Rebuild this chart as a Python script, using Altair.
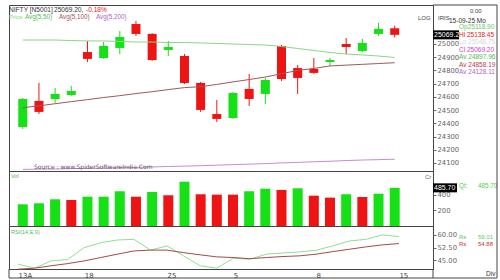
import altair as alt
import pandas as pd

FONT = "DejaVu Sans"
FONT2 = "Liberation Sans"
GREEN = "#16e016"
RED = "#ee1414"
MA50_C = "#86d886"
MA100_C = "#a45656"
MA200_C = "#c98ad2"
RSI_C = "#8fe08f"
SIG_C = "#a44a4a"
FRAME = "#444444"

# ---------------- data ----------------
day_idx = list(range(24))
opens = [24372, 24569, 24584, 24614, 24939, 24894, 24970, 25151, 25076, 24955, 24909, 24705,
         24470, 24440, 24660, 24622, 24985, 24818, 24811, 24864, 25000, 24947, 25076, 25118.90]
highs = [24591, 24705, 24667, 24682, 25023, 25015, 25098, 25174, 25083, 25023, 24924, 24713,
         24576, 24637, 24773, 24743, 24992, 24841, 24894, 24894, 25045, 25038, 25159, 25138.45]
lows = [24357, 24470, 24554, 24607, 24864, 24887, 24924, 25061, 24871, 24909, 24697, 24486,
        24410, 24433, 24531, 24546, 24720, 24622, 24773, 24834, 24924, 24939, 25061, 25048.75]
closes = [24584, 24486, 24622, 24644, 24887, 24985, 25053, 25076, 24879, 24977, 24705, 24501,
          24433, 24629, 24584, 24728, 24735, 24743, 24781, 24879, 24977, 25008, 25114, 25069.20]
ma50 = [25030, 25030, 25030, 25026, 25023, 25023, 25019, 25015, 25015, 25011, 25011, 25008,
        25004, 25000, 24996, 24992, 24981, 24966, 24951, 24936, 24924, 24917, 24909, 24897.96]
ma100 = [24518, 24532, 24548, 24564, 24579, 24595, 24609, 24625, 24639, 24655, 24670, 24677,
         24694, 24713, 24731, 24750, 24775, 24800, 24815, 24834, 24840, 24846, 24852, 24858.19]
ma200 = [24051, 24053, 24054, 24057, 24059, 24061, 24063, 24066, 24070, 24073, 24076, 24079,
         24083, 24087, 24091, 24095, 24100, 24104, 24109, 24113, 24118, 24122, 24125, 24128.11]
vols = [276, 289, 340, 331, 373, 373, 442, 373, 433, 391, 564, 404,
        399, 399, 442, 475, 459, 480, 386, 361, 404, 369, 411, 485.70]
vol_dir = ["up", "up", "up", "down", "up", "up", "up", "down", "up", "down", "up", "down",
           "down", "down", "up", "up", "down", "up", "down", "down", "up", "down", "up", "up"]
rsi = [42.7, 40.3, 44.6, 45.4, 52.5, 55.4, 57.0, 57.4, 51.0, 53.5, 47.6, 41.7,
       40.3, 46.2, 45.6, 48.6, 49.3, 49.9, 50.9, 53.5, 56.4, 57.4, 60.0, 59.01]
rsi_sig = [39.7, 40.3, 41.7, 43.0, 44.6, 46.6, 48.6, 50.5, 51.0, 51.0, 49.5, 48.2,
           47.0, 46.6, 45.9, 46.6, 47.2, 47.6, 48.6, 50.1, 51.5, 52.9, 54.1, 54.88]

x_tick_idx = [0, 4, 9, 13, 18, 23]
x_tick_lbl = ["13A", "18", "25", "5", "8", "15"]
price_ticks = [24100, 24200, 24300, 24400, 24500, 24600, 24700, 24800, 24900, 25000]
vol_ticks = [200, 400]
rsi_ticks = [45.0, 52.5, 60.0]

df = pd.DataFrame(dict(i=day_idx, open=opens, high=highs, low=lows, close=closes,
                       ma50=ma50, ma100=ma100, ma200=ma200, vol=vols, vdir=vol_dir,
                       rsi=rsi, sig=rsi_sig))
df["dir"] = ["up" if c >= o else "down" for o, c in zip(opens, closes)]
last = df.tail(1).copy()
last["ctext"] = [f"{closes[-1]:.1f}"]
last["vtext"] = [f"{vols[-1]:.2f}"]

chg = (closes[-1] - closes[-2]) / closes[-2] * 100

# ---------------- layout ----------------
W = 424
H_PRICE, H_VOL, H_RSI = 166, 55, 43

xscale = alt.Scale(domain=[-0.543, 25.06], nice=False, zero=False)
dir_color = alt.Scale(domain=["up", "down"], range=[GREEN, RED])

def raxis(values, fmt):
    return alt.Axis(orient="right", values=values, format=fmt, title=None, grid=False,
                    domain=False, tickSize=3, tickColor="#666", labelColor="#666",
                    labelFontSize=6.8, labelFont=FONT, labelPadding=1)

one = pd.DataFrame({"a": [0]})

def txt(text, x, y, color, size=6.5, weight="normal", align="left", font=FONT2):
    return alt.Chart(one).mark_text(text=text, align=align, baseline="middle", fontSize=size,
                                    font=font, color=color, fontWeight=weight).encode(
        x=alt.value(x), y=alt.value(y))

def hrule(x1, x2, y):
    return alt.Chart(one).mark_rule(color=FRAME, strokeWidth=1).encode(
        x=alt.value(x1), x2=alt.value(x2), y=alt.value(y))

def vrule(x, y1, y2):
    return alt.Chart(one).mark_rule(color=FRAME, strokeWidth=1).encode(
        x=alt.value(x), y=alt.value(y1), y2=alt.value(y2))

# ---- price panel ----
pscale = alt.Scale(domain=[24039, 25295], nice=False, zero=False)
PAX = raxis(price_ticks, "d")
XN = alt.X("i:Q", scale=xscale, axis=None)
base = alt.Chart(df).encode(x=XN)
wicks = base.mark_rule(strokeWidth=1).encode(
    y=alt.Y("low:Q", scale=pscale, axis=PAX), y2="high:Q",
    color=alt.Color("dir:N", scale=dir_color, legend=None))
bodies = base.mark_bar(width=9).encode(
    y=alt.Y("open:Q", scale=pscale, axis=PAX), y2="close:Q",
    color=alt.Color("dir:N", scale=dir_color, legend=None))
l50 = base.mark_line(strokeWidth=1, color=MA50_C).encode(y=alt.Y("ma50:Q", scale=pscale, axis=PAX))
l100 = base.mark_line(strokeWidth=1, color=MA100_C).encode(y=alt.Y("ma100:Q", scale=pscale, axis=PAX))
l200 = base.mark_line(strokeWidth=1, color=MA200_C).encode(y=alt.Y("ma200:Q", scale=pscale, axis=PAX))
cbox = alt.Chart(last).mark_rule(strokeWidth=9, color="black", strokeCap="butt").encode(
    y=alt.Y("close:Q", scale=pscale, axis=PAX), x=alt.value(424), x2=alt.value(450))
ctext = alt.Chart(last).mark_text(align="left", baseline="middle", color="white", fontSize=7,
                                  font=FONT2).encode(
    y=alt.Y("close:Q", scale=pscale, axis=PAX), x=alt.value(425), text="ctext:N")

price = alt.layer(
    wicks, bodies, l50, l100, l200,
    txt("Source : www.SpiderSoftwareIndia.Com", 25, 162, "#556", 6, font=FONT),
    cbox, ctext,
    txt("NIFTY [N5001]", 0, 5, "#333", 6.6),
    txt(f"{closes[-1]:.2f},", 45, 5, "#333", 6.6),
    txt(f"{chg:.2f}%", 77, 5, RED, 6.6),
    txt("Price", 0, 12, MA50_C, 6.0),
    txt("Avg(5,50)", 16, 12, "#55bb55", 6.3),
    txt("Avg(5,100)", 50, 12, MA100_C, 6.3),
    txt("Avg(5,200)", 87, 12, "#b066c0", 6.3),
    txt("LOG", 409, 13, "#444", 6),
    txt("IRIS", 429, 13, "#444", 6),
    txt("0.00", 461, 6, "#444", 6),
    txt("15-09-25 Mo", 440, 15.5, "#333", 6.5),
    txt(f"Op{opens[-1]:.2f}", 450, 22, "#66cc66", 6.5),
    txt(f"Hi  {highs[-1]:.2f}", 450, 29.5, RED, 6.5),
    txt(f"Lo  {lows[-1]:.2f}", 450, 37, "#d8d8d8", 6.5),
    txt(f"Cl  {closes[-1]:.2f}", 450, 44.5, "#cc44cc", 6.5),
    txt(f"Av  {ma50[-1]:.2f}", 450, 52, "#55bb55", 6.5),
    txt(f"Av  {ma100[-1]:.2f}", 450, 59.5, "#c04040", 6.5),
    txt(f"Av  {ma200[-1]:.2f}", 450, 67, "#b066c0", 6.5),
    hrule(424, 488, 0),
).properties(width=W, height=H_PRICE)

# ---- volume panel ----
vscale = alt.Scale(domain=[0, 700], nice=False)
VAX = raxis(vol_ticks, "d")
vbars = alt.Chart(df).mark_bar(width=10).encode(
    x=XN,
    y=alt.Y("vol:Q", scale=vscale, axis=VAX),
    color=alt.Color("vdir:N", scale=dir_color, legend=None))
vbox = alt.Chart(last).mark_rule(strokeWidth=9, color="black", strokeCap="butt").encode(
    y=alt.Y("vol:Q", scale=vscale, axis=VAX), x=alt.value(424), x2=alt.value(448))
vtext = alt.Chart(last).mark_text(align="left", baseline="middle", color="white", fontSize=7,
                                  font=FONT2).encode(
    y=alt.Y("vol:Q", scale=vscale, axis=VAX), x=alt.value(425), text="vtext:N")
volume = alt.layer(
    vbars, vbox, vtext,
    txt("Vol", 2, 5, "#55bb55", 5.5),
    txt("Cr", 416, 6, "#666", 6),
    txt("Qt:", 450, 14.5, "#55cc55", 6.3),
    txt(f"{vols[-1]:.2f}", 469, 14.5, "#55cc55", 6.3),
).properties(width=W, height=H_VOL)

# ---- RSI panel ----
rscale = alt.Scale(domain=[39.8, 65.3], nice=False, zero=False)
RAX = raxis(rsi_ticks, ".2f")
label_expr = " : ".join(f"datum.value == {i} ? '{l}'" for i, l in zip(x_tick_idx, x_tick_lbl)) + " : ''"
xaxis = alt.Axis(values=x_tick_idx, labelExpr=label_expr, labelAlign="left", labelBaseline="top",
                 labelPadding=2, ticks=False, domain=False, grid=False, title=None,
                 labelFontSize=7, labelFont=FONT, labelColor="#444", labelFlush=False,
                 labelOverlap=False)
rbase = alt.Chart(df).encode(x=alt.X("i:Q", scale=xscale, axis=xaxis))
rline = rbase.mark_line(strokeWidth=1, color=RSI_C).encode(
    y=alt.Y("rsi:Q", scale=rscale, axis=RAX))
sline = rbase.mark_line(strokeWidth=1, color=SIG_C).encode(
    y=alt.Y("sig:Q", scale=rscale, axis=RAX))
rsi_panel = alt.layer(
    rline, sline,
    txt("RSI(14,E,9)", 2, 6, "#55bb55", 5.5),
    txt("Rs", 450, 11, "#55cc55", 6),
    txt(f"{rsi[-1]:.2f}", 469, 11, "#55cc55", 6),
    txt("Rs", 450, 18, "#cc3333", 6),
    txt(f"{rsi_sig[-1]:.2f}", 469, 18, "#cc3333", 6),
    txt("Div", 477, 48, "#333", 6.5),
    hrule(0, 488, 52),
    vrule(488, -221, 52),
    vrule(0, 43, 52),
    vrule(424, 43, 52),
).properties(width=W, height=H_RSI)

chart = alt.vconcat(price, volume, rsi_panel, spacing=0, bounds="flush").properties(
    padding={"left": 8, "top": 4, "right": 0, "bottom": 0},
    background="white",
).configure_view(stroke=FRAME, strokeWidth=1)

chart.save("out.html", embed_options={"renderer": "svg", "actions": False})
